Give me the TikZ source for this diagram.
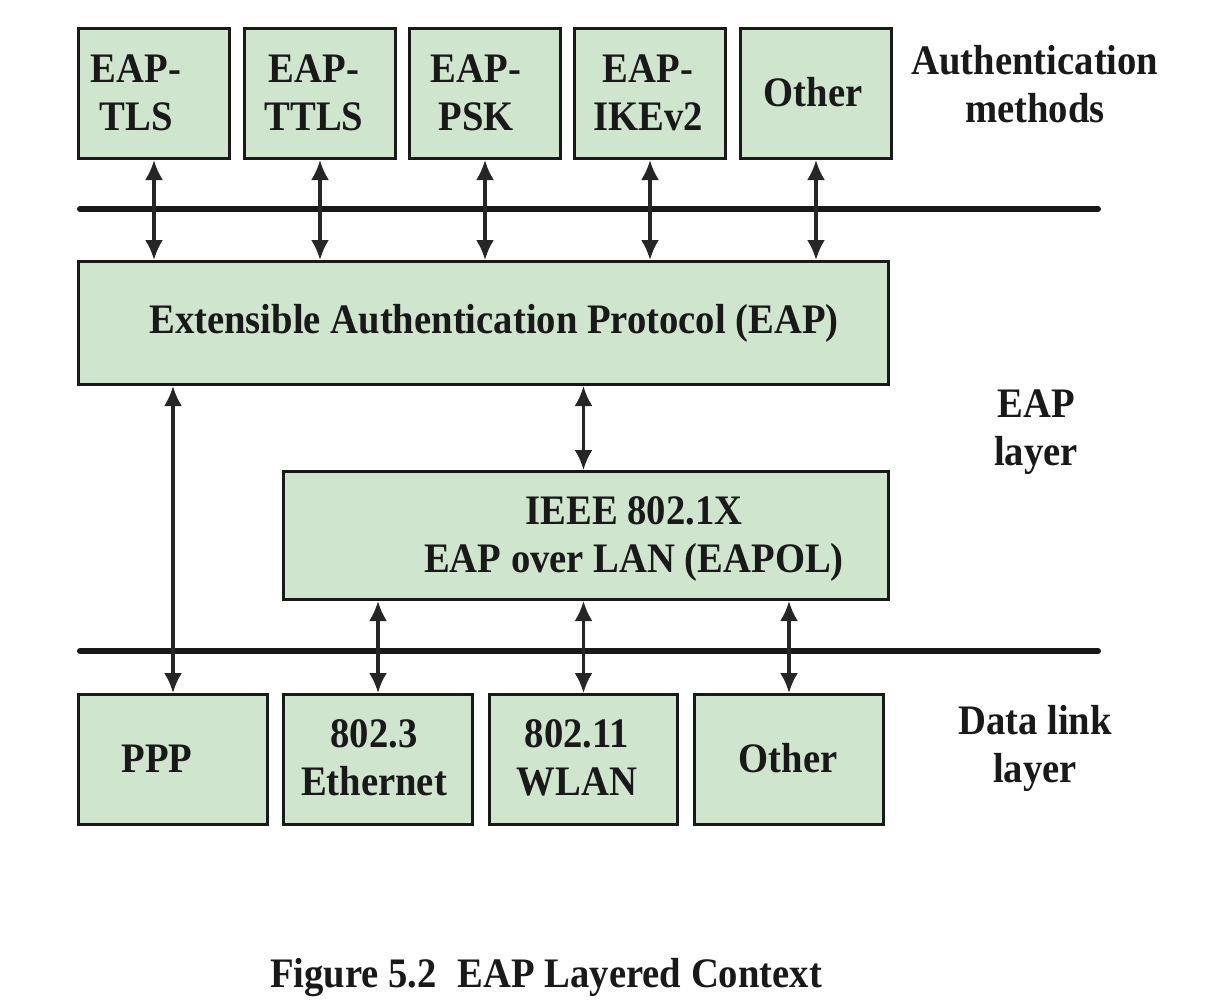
\documentclass[tikz,border=0pt]{standalone}
\usepackage{fontspec}
\setmainfont{Liberation Serif}[FakeStretch=0.92]
\usetikzlibrary{arrows.meta}
\definecolor{boxgreen}{RGB}{207,229,205}
\begin{document}
\begin{tikzpicture}[x=0.5pt,y=-0.5pt,
  box/.style={draw=black!90, line width=1.5pt, fill=boxgreen, inner sep=0pt, anchor=north west},
  lbl/.style={font=\fontsize{21pt}{24pt}\selectfont\bfseries, text=black!90, align=center, inner sep=0pt},
  arr/.style={draw=black!85, line width=1.6pt, {Latex[length=10pt,width=9pt]}-{Latex[length=10pt,width=9pt]}},
  bus/.style={draw=black!90, line width=3pt, line cap=round}]
\useasboundingbox (0,0) rectangle (1206,1002);
% bus lines
\coordinate (b1l) at (80,209); \coordinate (b1r) at (1098,209);
\coordinate (b2l) at (80,651); \coordinate (b2r) at (1098,651);
\draw[bus] (b1l) -- (b1r);
\draw[bus] (b2l) -- (b2r);
% top boxes
\node[box, minimum width=75.5pt, minimum height=65pt] (tls)  at (77,27)  {};
\node[box, minimum width=75.5pt, minimum height=65pt] (ttls) at (243,27) {};
\node[box, minimum width=75.5pt, minimum height=65pt] (psk)  at (408,27) {};
\node[box, minimum width=75.5pt, minimum height=65pt] (ike)  at (573,27) {};
\node[box, minimum width=75.5pt, minimum height=65pt] (oth1) at (739,27) {};
% EAP and EAPOL
\node[box, minimum width=405pt, minimum height=61.5pt] (eap) at (77,260) {};
\node[box, minimum width=302.5pt, minimum height=64pt] (eapol) at (282,470) {};
% bottom boxes
\node[box, minimum width=94.5pt, minimum height=65pt] (ppp)  at (77,693)  {};
\node[box, minimum width=94.5pt, minimum height=65pt] (eth)  at (282,693) {};
\node[box, minimum width=94pt,   minimum height=65pt] (wlan) at (488,693) {};
\node[box, minimum width=94.5pt, minimum height=65pt] (oth2) at (693,693) {};
% texts
\node[lbl] (ttls1) at (136,92.5) {EAP-\\TLS};
\node[lbl] (ttls2) at (314,92.5) {EAP-\\TTLS};
\node[lbl] (tpsk)  at (476,92.5) {EAP-\\PSK};
\node[lbl] (tike)  at (648,92.5) {EAP-\\IKEv2};
\node[lbl, anchor=base] (toth1) at (813,106) {Other};
\node[lbl, anchor=base] (teap) at (494,333) {Extensible Authentication Protocol (EAP)};
\node[lbl] (teapol) at (634,539) {IEEE 802.1X\\EAP over LAN (EAPOL)};
\node[lbl, anchor=base] (tppp) at (157,772) {PPP};
\node[lbl] (teth)  at (374,757.5) {802.3\\Ethernet};
\node[lbl] (twlan) at (577,757.5) {802.11\\WLAN};
\node[lbl, anchor=base] (toth2) at (788,772) {Other};
\node[lbl] (lauth) at (1035,84) {Authentication\\methods};
\node[lbl] (leap)  at (1036,432) {EAP\\layer};
\node[lbl] (ldl)   at (1035,748.5) {Data link\\layer};
\node[lbl, anchor=base] (cap) at (546,987) {Figure 5.2\enspace EAP Layered Context};
% arrows
\foreach \n in {tls,ttls,psk,ike,oth1}{
  \draw[arr] (\n.south) -- (\n.south |- eap.north);
}
\draw[arr] (eap.south -| ppp.north) -- (ppp.north);
\draw[arr] (eap.south -| wlan.north) -- (eapol.north -| wlan.north);
\foreach \n in {eth,wlan,oth2}{
  \draw[arr] (eapol.south -| \n.north) -- (\n.north);
}
\end{tikzpicture}
\end{document}
